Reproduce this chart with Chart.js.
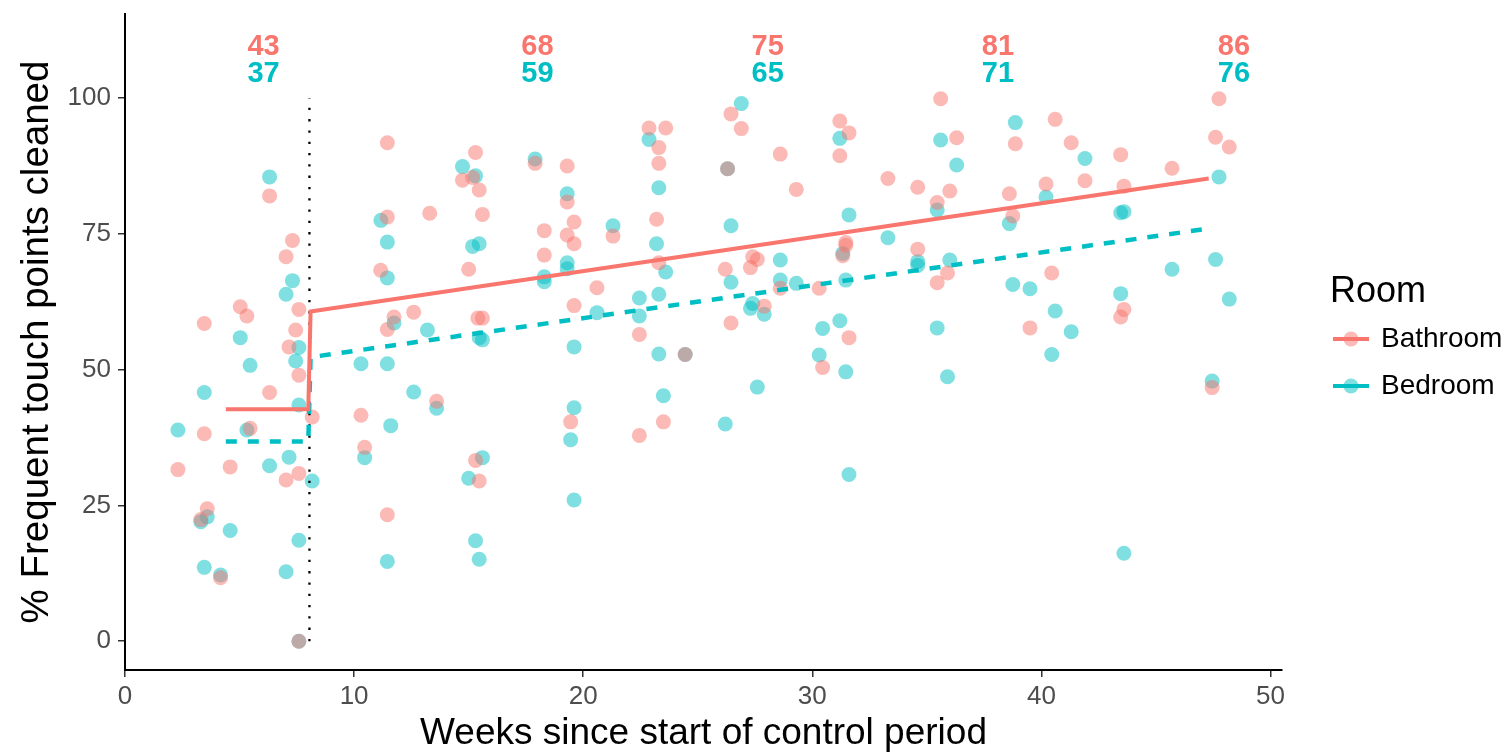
<!DOCTYPE html>
<html>
<head>
<meta charset="utf-8">
<script src="https://cdn.jsdelivr.net/npm/chart.js@4.4.0/dist/chart.umd.min.js"></script>
<style>
  body { margin: 0; background: #fff; }
</style>
</head>
<body>
<canvas id="chart" width="1512" height="756"></canvas>
<script>
// weekly audits: % of frequent touch points cleaned, by room
const bathroomX = [11.45, 6.31, 11.45, 11.16, 7.31, 7.03, 5.03, 5.32, 3.46, 7.59, 7.45, 7.16, 11.74, 11.45, 12.6, 13.6,
  7.59, 6.31, 8.17, 10.3, 3.46, 5.46, 10.46, 2.31, 4.59, 7.59, 7.03, 3.59, 3.31, 11.45, 4.17, 7.59,
  22.87, 23.6, 23.3, 23.3, 23.2, 23.3, 22.45, 24.45, 15.3, 15.17, 14.73, 15.46, 15.6, 13.3, 15.0, 15.4, 15.6,
  17.9, 19.3, 19.3, 19.6, 18.3, 19.3, 19.6, 18.3, 20.6, 21.3, 19.6,
  19.45, 23.5, 22.45, 15.3, 15.46,
  26.45, 26.9, 28.6, 26.3, 29.3, 31.2, 31.6, 31.2, 31.46, 31.46, 31.33, 33.3, 34.6, 35.45, 35.6, 36.3, 36.0,
  34.6, 35.9, 35.45, 38.6, 38.75, 38.86, 26.2, 27.4, 27.6, 27.3, 28.6, 27.9, 26.45, 30.3, 31.6, 30.45,
  40.6, 41.3, 43.46, 45.7, 47.75, 47.6, 48.2, 40.2, 41.9, 43.6, 40.45, 39.5, 43.6, 43.46, 47.45];
const bathroomY = [91.8, 82.0, 78.1, 68.3, 73.8, 70.8, 61.6, 59.9, 58.5, 61.1, 57.3, 54.2, 59.7, 57.4, 60.6, 44.2,
  49.0, 45.8, 41.3, 41.6, 38.2, 39.2, 35.7, 31.6, 32.1, 30.9, 29.7, 24.4, 22.4, 23.3, 11.7, 0,
  94.5, 94.5, 90.9, 88.0, 77.7, 69.7, 56.5, 52.8, 90.0, 85.4, 84.9, 83.1, 78.6, 78.8, 68.5, 59.5, 59.5,
  88.0, 87.5, 80.9, 77.2, 75.6, 74.8, 73.2, 71.1, 65.1, 74.6, 61.8,
  40.4, 40.4, 37.9, 33.3, 29.5,
  97.1, 94.4, 89.7, 87.0, 83.2, 95.8, 93.6, 89.4, 73.4, 72.9, 71.0, 85.2, 83.6, 80.8, 99.9, 92.7, 82.9,
  72.2, 67.8, 66.0, 82.4, 78.3, 91.6, 68.5, 70.8, 70.3, 68.8, 65.0, 61.7, 58.6, 65.0, 55.9, 50.4,
  96.1, 91.8, 89.6, 87.1, 99.9, 92.8, 91.0, 84.2, 84.8, 83.8, 67.8, 57.7, 61.1, 59.7, 46.7];

const bedroomX = [6.31, 11.17, 11.45, 11.45, 7.31, 7.03, 5.03, 7.59, 7.45, 5.46, 11.74, 10.3, 11.45, 13.2,
  3.46, 12.6, 7.59, 11.6, 2.31, 5.32, 10.46, 7.16, 6.31, 8.17, 3.59, 3.31, 4.59, 7.59, 11.45, 3.46, 4.17, 7.03, 7.59,
  22.87, 23.3, 23.2, 23.6, 23.3, 22.45, 22.45, 23.3, 24.45, 14.73, 15.3, 15.17, 15.46, 15.46, 15.6,
  17.9, 19.3, 19.3, 19.3, 18.3, 18.3, 21.3, 20.6, 19.6,
  13.6, 19.6, 19.45, 23.5, 15.6, 15.0, 19.6, 15.3, 15.46,
  26.9, 26.3, 26.45, 31.2, 31.6, 31.33, 33.3, 35.45, 35.6, 36.3, 34.6, 34.6, 36.0, 38.6, 38.86, 38.75,
  26.45, 28.6, 28.6, 29.3, 27.4, 27.3, 27.9, 30.45, 31.2, 30.3, 35.45, 31.46,
  27.6, 26.2, 31.46, 35.9, 31.6,
  41.9, 47.75, 40.2, 43.46, 43.6, 39.5, 40.6, 41.3, 40.45, 43.46, 45.7, 47.6, 48.2, 47.45, 43.6];
const bedroomY = [85.5, 77.5, 73.5, 66.9, 66.4, 63.9, 55.9, 54.1, 51.6, 50.8, 58.6, 51.1, 51.1, 57.3,
  45.8, 45.9, 43.5, 39.7, 38.9, 38.9, 33.8, 33.9, 32.3, 29.5, 22.9, 22.0, 20.4, 18.6, 14.7, 13.6, 12.2, 12.8, 0,
  92.4, 83.5, 73.2, 68.0, 63.9, 63.2, 59.9, 52.9, 52.8, 87.4, 85.7, 72.7, 73.2, 55.9, 55.5,
  88.8, 82.4, 69.7, 68.6, 67.1, 66.2, 76.5, 60.5, 54.2,
  42.9, 43.0, 37.1, 45.2, 33.8, 30.0, 26.0, 18.5, 15.1,
  99.0, 87.0, 76.5, 92.6, 78.5, 71.4, 74.3, 79.4, 92.3, 87.7, 69.9, 69.2, 70.2, 76.9, 95.5, 65.7,
  66.1, 70.2, 66.5, 65.9, 62.2, 61.3, 60.2, 57.6, 59.0, 52.7, 57.7, 66.5,
  46.8, 40.0, 49.6, 48.7, 30.7,
  88.9, 85.5, 81.8, 78.9, 79.1, 64.9, 60.8, 57.0, 52.8, 64.0, 68.5, 70.3, 63.0, 47.9, 16.2];

// segmented regression fits (control period, then intervention)
const bathroomFitX = [4.4, 8.0, 8.1, 47.3];
const bathroomFitY = [42.7, 42.7, 60.7, 85.2];
const bedroomFitX = [4.4, 8.0, 8.1, 47.3];
const bedroomFitY = [36.8, 36.8, 52.3, 76.0];

// intervention start
const interventionWeek = 8.05;

// predicted % printed along the top
const labelWeeks = [6.05, 18.0, 28.05, 38.1, 48.4];
const bathroomLabels = [43, 68, 75, 81, 86];
const bedroomLabels = [37, 59, 65, 71, 76];

const xTicks = [0, 10, 20, 30, 40, 50];
const yTicks = [0, 25, 50, 75, 100];

const PINK = "#F8766D";
const TEAL = "#00BFC4";
const FONT = "'Liberation Sans', Arial, Helvetica, sans-serif";

const zip = (xs, ys) => xs.map((x, i) => ({ x: x, y: ys[i] }));

// numbers above the plot, one pair per time block
const topLabels = {
    id: "topLabels",
    afterDatasetsDraw(chart) {
        const { ctx, scales: { x, y } } = chart;
        ctx.save();
        ctx.font = "bold 29px " + FONT;
        ctx.textAlign = "center";
        ctx.textBaseline = "middle";
        labelWeeks.forEach((w, i) => {
            const px = x.getPixelForValue(w);
            ctx.fillStyle = PINK;
            ctx.fillText(String(bathroomLabels[i]), px, y.getPixelForValue(109.4));
            ctx.fillStyle = TEAL;
            ctx.fillText(String(bedroomLabels[i]), px, y.getPixelForValue(104.4));
        });
        ctx.restore();
    }
};

// ggplot-style legend on the right
const roomLegend = {
    id: "roomLegend",
    afterDraw(chart) {
        const { ctx, chartArea } = chart;
        const left = chartArea.right + 48;
        ctx.save();
        ctx.fillStyle = "#000";
        ctx.textBaseline = "middle";
        ctx.font = "36px " + FONT;
        ctx.fillText("Room", left, 292);
        const rows = [
            { name: "Bathroom", color: PINK, fill: "rgba(248,118,109,0.5)", y: 339 },
            { name: "Bedroom", color: TEAL, fill: "rgba(0,191,196,0.5)", y: 386 }
        ];
        rows.forEach(r => {
            ctx.strokeStyle = r.color;
            ctx.lineWidth = 4;
            ctx.beginPath();
            ctx.moveTo(left + 3, r.y);
            ctx.lineTo(left + 39, r.y);
            ctx.stroke();
            ctx.fillStyle = r.fill;
            ctx.beginPath();
            ctx.arc(left + 21, r.y, 7.5, 0, Math.PI * 2);
            ctx.fill();
            ctx.fillStyle = "#000";
            ctx.font = "28px " + FONT;
            ctx.fillText(r.name, left + 51, r.y);
        });
        ctx.restore();
    }
};

const ctx = document.getElementById("chart").getContext("2d");

new Chart(ctx, {
    type: "scatter",
    data: {
        datasets: [
            {
                label: "Bathroom fit",
                type: "line",
                data: zip(bathroomFitX, bathroomFitY),
                borderColor: PINK,
                borderWidth: 4,
                pointRadius: 0,
                fill: false,
                order: 0
            },
            {
                label: "Bedroom fit",
                type: "line",
                data: zip(bedroomFitX, bedroomFitY),
                borderColor: TEAL,
                borderWidth: 4.5,
                borderDash: [11, 11],
                pointRadius: 0,
                fill: false,
                order: 0
            },
            {
                label: "Intervention",
                type: "line",
                data: [{ x: interventionWeek, y: 0 }, { x: interventionWeek, y: 100 }],
                borderColor: "#000",
                borderWidth: 2.3,
                borderDash: [2.3, 9],
                pointRadius: 0,
                fill: false,
                order: 0
            },
            {
                label: "Bathroom",
                data: zip(bathroomX, bathroomY),
                backgroundColor: "rgba(248,118,109,0.5)",
                borderWidth: 0,
                pointRadius: 7.5,
                order: 1
            },
            {
                label: "Bedroom",
                data: zip(bedroomX, bedroomY),
                backgroundColor: "rgba(0,191,196,0.5)",
                borderWidth: 0,
                pointRadius: 7.5,
                order: 1
            }
        ]
    },
    options: {
        responsive: false,
        animation: false,
        layout: { padding: { top: 14, right: 230, left: 0, bottom: 0 } },
        plugins: {
            legend: { display: false },
            tooltip: { enabled: false }
        },
        scales: {
            x: {
                type: "linear",
                min: 0,
                max: 50.5,
                afterBuildTicks: scale => { scale.ticks = xTicks.map(v => ({ value: v })); },
                afterFit: scale => { scale.height = 86; },
                border: { display: true, color: "#000", width: 2 },
                grid: { display: true, drawOnChartArea: false, drawTicks: true, tickLength: 7, color: "#333", lineWidth: 1.5 },
                ticks: { color: "#4D4D4D", padding: 4, font: { family: FONT, size: 26 } },
                title: {
                    display: true,
                    text: "Weeks since start of control period",
                    color: "#000",
                    padding: { top: 0, bottom: 0 },
                    font: { family: FONT, size: 37, lineHeight: 1.2 }
                }
            },
            y: {
                type: "linear",
                min: -5.3,
                max: 115.5,
                afterBuildTicks: scale => { scale.ticks = yTicks.map(v => ({ value: v })); },
                afterFit: scale => {
                    scale.width = 125;
                    // tick labels sit well inside the range, no edge padding needed
                    scale.paddingTop = 0;
                    scale.paddingBottom = 0;
                },
                border: { display: true, color: "#000", width: 2 },
                grid: { display: true, drawOnChartArea: false, drawTicks: true, tickLength: 7, color: "#333", lineWidth: 1.5 },
                ticks: { color: "#4D4D4D", padding: 7, font: { family: FONT, size: 26 } },
                title: {
                    display: true,
                    text: "% Frequent touch points cleaned",
                    color: "#000",
                    padding: { top: 14, bottom: 0 },
                    font: { family: FONT, size: 38.5, lineHeight: 1.2 }
                }
            }
        }
    },
    plugins: [topLabels, roomLegend]
});
</script>
</body>
</html>
